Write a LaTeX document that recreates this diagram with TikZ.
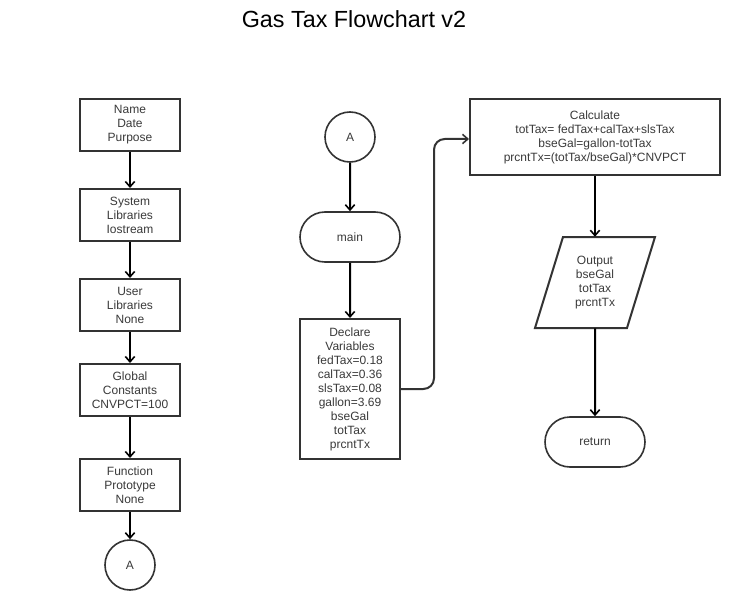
\documentclass[tikz,border=0pt]{standalone}
\usepackage{fontspec}
\setmainfont{Liberation Sans}
\usetikzlibrary{arrows.meta,shapes.geometric,shapes.misc}
\definecolor{ln}{HTML}{333333}
\definecolor{tx}{HTML}{3A3A3A}
\begin{document}
\begin{tikzpicture}[x=0.75pt,y=-0.75pt,
  every node/.style={font=\fontsize{9}{10.5}\selectfont,text=tx,align=center,inner sep=0pt},
  proc/.style={draw=ln,line width=1.5pt,fill=white},
  conn/.style={draw=ln,line width=1.2pt,circle,minimum size=50*0.75pt},
  term/.style={draw=ln,line width=1.2pt,rounded rectangle,minimum width=100*0.75pt,minimum height=50*0.75pt},
  arr/.style={draw=black,line width=1.5pt,-{Straight Barb[length=4pt,width=7pt,line width=1.2pt]}},
  link/.style={draw=ln,line width=1.5pt,rounded corners=8pt,-{Straight Barb[length=4pt,width=7pt,line width=1.2pt]}}]
\useasboundingbox (0,0) rectangle (743,610);
\node[text=black] (title) at (354,19) {\fontsize{17.5}{20}\selectfont Gas Tax Flowchart v2};
% left column
\node[proc,minimum width=100*0.75pt,minimum height=52*0.75pt] (b1) at (130,125) {Name\\Date\\Purpose};
\node[proc,minimum width=100*0.75pt,minimum height=52*0.75pt] (b2) at (130,215) {System\\Libraries\\Iostream};
\node[proc,minimum width=100*0.75pt,minimum height=52*0.75pt] (b3) at (130,305) {User\\Libraries\\None};
\node[proc,minimum width=100*0.75pt,minimum height=52*0.75pt] (b4) at (130,390) {Global\\Constants\\CNVPCT=100};
\node[proc,minimum width=100*0.75pt,minimum height=52*0.75pt] (b5) at (130,485) {Function\\Prototype\\None};
\node[conn] (a1) at (130,565) {A};
\draw[arr] (b1) -- (b2);
\draw[arr] (b2) -- (b3);
\draw[arr] (b3) -- (b4);
\draw[arr] (b4) -- (b5);
\draw[arr] (b5) -- (a1);
% middle column
\node[conn] (a2) at (350,137) {A};
\node[term] (main) at (350,237) {main};
\node[proc,minimum width=100*0.75pt,minimum height=140*0.75pt] (decl) at (350,389) {Declare\\Variables\\fedTax=0.18\\calTax=0.36\\slsTax=0.08\\gallon=3.69\\bseGal\\totTax\\prcntTx};
\draw[arr] (a2) -- (main);
\draw[arr] (main) -- (decl);
% right column
\node[proc,minimum width=250*0.75pt,minimum height=76*0.75pt] (calc) at (595,137) {Calculate\\totTax= fedTax+calTax+slsTax\\bseGal=gallon-totTax\\prcntTx=(totTax/bseGal)*CNVPCT};
\draw[draw=ln,line width=1.5pt,line join=miter] (563,237) -- (655,237) -- (627,328) -- (535,328) -- cycle;
\node[minimum width=92*0.75pt,minimum height=91*0.75pt] (out) at (595,282.5) {Output\\bseGal\\totTax\\prcntTx};
\node[term] (ret) at (595,442) {return};
\coordinate (c1) at (434,389);
\coordinate (c2) at (434,139);
\draw[link] (decl.east |- c1) -- (c1) -- (c2) -- (calc.west |- c2);
\draw[arr] (calc) -- (out);
\draw[arr] (out) -- (ret);
\end{tikzpicture}
\end{document}
